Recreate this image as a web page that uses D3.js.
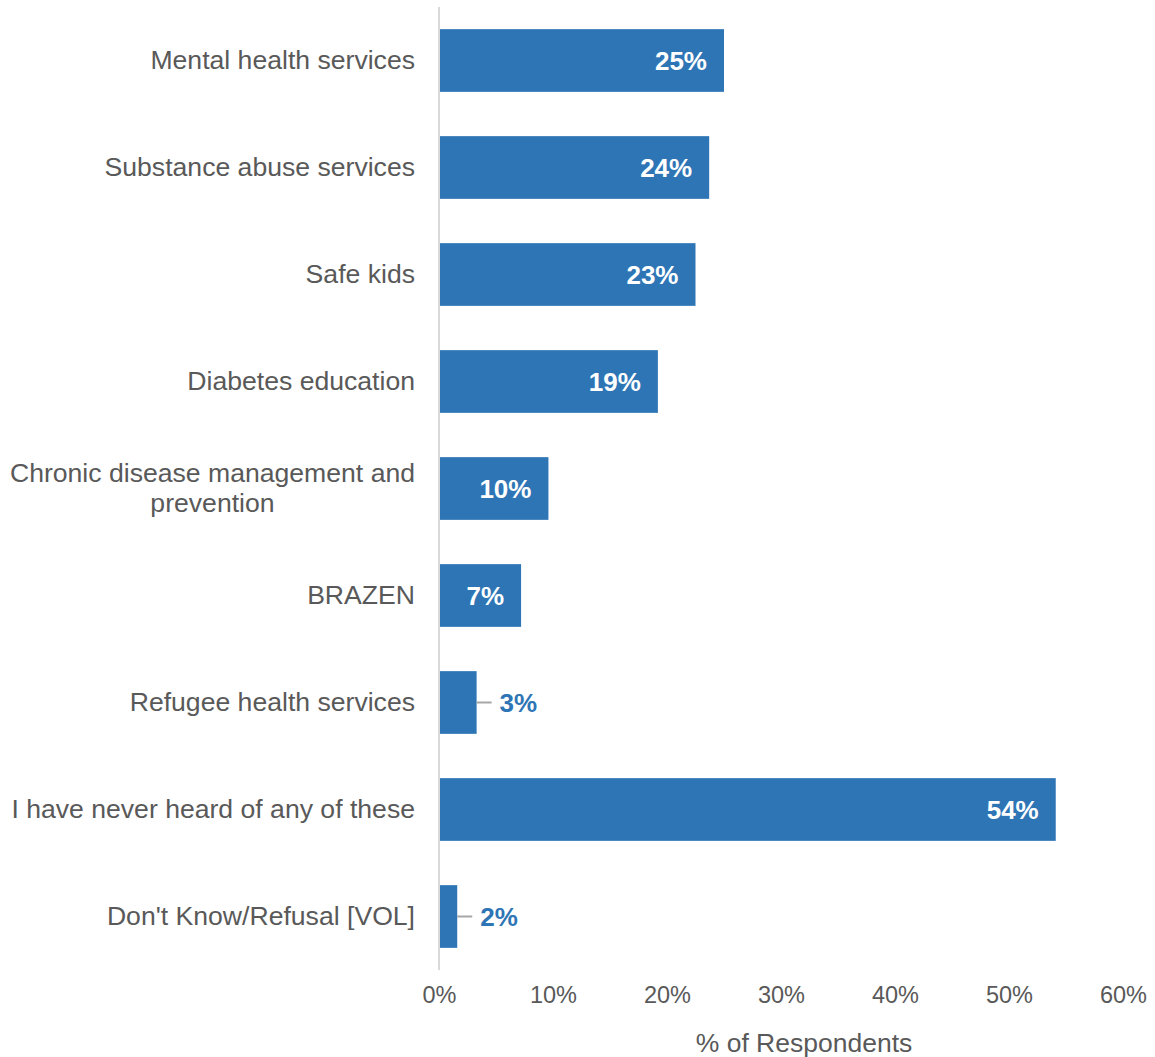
<!DOCTYPE html>
<html>
<head>
<meta charset="utf-8">
<script src="https://cdn.jsdelivr.net/npm/d3@7"></script>
<style>
  html, body { margin: 0; padding: 0; background: #fff; }
  svg { display: block; font-family: "Liberation Sans", Arial, sans-serif; }
</style>
</head>
<body>
<svg id="chart" width="1155" height="1057"></svg>
<script>
const categories = [
  ["Mental health services"],
  ["Substance abuse services"],
  ["Safe kids"],
  ["Diabetes education"],
  ["Chronic disease management and", "prevention"],
  ["BRAZEN"],
  ["Refugee health services"],
  ["I have never heard of any of these"],
  ["Don't Know/Refusal [VOL]"]
];
const values = [25.0, 23.7, 22.5, 19.2, 9.6, 7.2, 3.3, 54.1, 1.6];
const valueLabels = ["25%", "24%", "23%", "19%", "10%", "7%", "3%", "54%", "2%"];
const outsideLabel = [false, false, false, false, false, false, true, false, true];
const tickValues = [0, 10, 20, 30, 40, 50, 60];
const axisTitle = "% of Respondents";

const svg = d3.select("#chart");
const x0 = 439, x1 = 1123, yTop = 7, yBot = 970;
const barColor = "#2E75B6", textColor = "#595959";
const catFont = "26.6px";

const x = d3.scaleLinear().domain([0, 60]).range([x0, x1]);
const y = d3.scaleBand().domain(d3.range(categories.length)).range([yTop, yBot])
  .paddingInner(0.414).paddingOuter(0.207);

// bars
svg.append("g").selectAll("rect").data(values).join("rect")
  .attr("x", x(0))
  .attr("y", (d, i) => y(i))
  .attr("width", d => x(d) - x(0))
  .attr("height", y.bandwidth())
  .attr("fill", barColor);

// axis line (vertical)
svg.append("line")
  .attr("x1", x(0)).attr("x2", x(0))
  .attr("y1", yTop).attr("y2", yBot)
  .attr("stroke", "#d9d9d9").attr("stroke-width", 2);

// x axis ticks
const xAxis = d3.axisBottom(x).tickValues(tickValues).tickFormat(d => d + "%").tickSize(0).tickPadding(0);
const gx = svg.append("g").attr("transform", `translate(0, ${yBot + 16})`).call(xAxis);
gx.select(".domain").remove();
gx.selectAll("text")
  .attr("fill", textColor)
  .attr("font-size", "23.5px")
  .attr("font-family", "'Liberation Sans', Arial, sans-serif")
  .attr("dy", "0.71em");

// axis title
svg.append("text")
  .attr("x", (x(0) + x(60)) / 2 + 23)
  .attr("y", 1052)
  .attr("text-anchor", "middle")
  .attr("fill", textColor)
  .attr("font-size", "26.5px")
  .text(axisTitle);

// category labels
const labelRight = 415;
const catG = svg.append("g");
categories.forEach((lines, i) => {
  const cy = y(i) + y.bandwidth() / 2;
  const lh = 30;
  const t = catG.append("text")
    .attr("fill", textColor)
    .attr("font-size", catFont);
  if (lines.length === 1) {
    t.append("tspan").attr("x", labelRight).attr("y", cy).attr("dy", "0.33em")
      .attr("text-anchor", "end").text(lines[0]);
  } else {
    t.attr("text-anchor", "middle");
    const tmp = svg.append("text").attr("font-size", catFont).text(lines[0]);
    const w = tmp.node().getComputedTextLength();
    tmp.remove();
    const cx = labelRight - w / 2;
    lines.forEach((ln, k) => {
      t.append("tspan").attr("x", cx)
        .attr("y", cy + (k - (lines.length - 1) / 2) * lh)
        .attr("dy", "0.33em").text(ln);
    });
  }
});

// value labels
const vg = svg.append("g");
values.forEach((v, i) => {
  const cy = y(i) + y.bandwidth() / 2;
  if (outsideLabel[i]) {
    vg.append("line")
      .attr("x1", x(v)).attr("x2", x(v) + 15)
      .attr("y1", cy).attr("y2", cy)
      .attr("stroke", "#a6a6a6").attr("stroke-width", 2);
    vg.append("text")
      .attr("x", x(v) + 23).attr("y", cy).attr("dy", "0.35em")
      .attr("fill", barColor).attr("font-weight", "bold").attr("font-size", "26px")
      .text(valueLabels[i]);
  } else {
    vg.append("text")
      .attr("x", x(v) - 17).attr("y", cy).attr("dy", "0.35em")
      .attr("text-anchor", "end")
      .attr("fill", "#fff").attr("font-weight", "bold").attr("font-size", "26px")
      .text(valueLabels[i]);
  }
});
</script>
</body>
</html>
